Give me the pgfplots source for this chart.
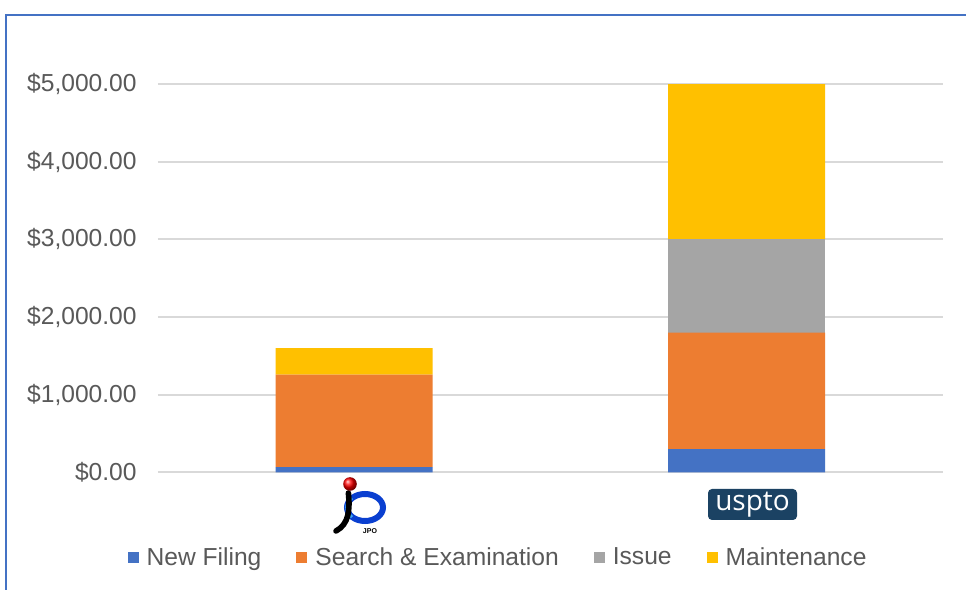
\documentclass[border=0pt]{standalone}
\usepackage{pgfplots}
\pgfplotsset{compat=1.18}
\usepackage{fontspec}
\setmainfont{Liberation Sans}
\newfontfamily\logofont{Open Sans}
\definecolor{cBlue}{HTML}{4472C4}
\definecolor{cOrange}{HTML}{ED7D31}
\definecolor{cGray}{HTML}{A5A5A5}
\definecolor{cYellow}{HTML}{FFC000}
\definecolor{txt}{HTML}{595959}
\definecolor{grid}{HTML}{D9D9D9}
\definecolor{frame}{HTML}{4472C4}
\definecolor{uspto}{HTML}{1B4263}
\definecolor{jpoblue}{HTML}{0A3FD0}
\definecolor{jpolight}{HTML}{3FA9F5}
\begin{document}
\begin{tikzpicture}
\path[use as bounding box] (0,0) rectangle (483pt,295pt);
\fill[white] (0,0) rectangle (483pt,295pt);
\begin{axis}[
  at={(79pt,58.75pt)}, anchor=south west,
  width=392.5pt, height=194.25pt, scale only axis,
  xmin=-0.5, xmax=1.5, ymin=0, ymax=5000,
  ybar stacked, bar width=78.5pt,
  axis line style={draw=none},
  tick style={draw=none},
  ymajorgrids, major grid style={color=grid, line width=1pt},
  xtick={0,1}, xticklabels={{},{}},
  ytick={0,1000,2000,3000,4000,5000},
  yticklabels={{\$0.00},{\$1,000.00},{\$2,000.00},{\$3,000.00},{\$4,000.00},{\$5,000.00}},
  yticklabel style={font=\fontsize{12.3}{14}\selectfont, text=txt, inner sep=0pt, xshift=-10.5pt},
  clip=false,
  legend columns=4,
  legend style={draw=none, fill=none, at={(0.437,-0.22)}, anchor=center,
    font=\fontsize{12.3}{14}\selectfont, text=txt,
    nodes={inner xsep=4pt, inner ysep=0pt},
    /tikz/every even column/.append style={column sep=13.5pt}},
  legend image code/.code={\fill[#1] (0pt,-2.75pt) rectangle (5.5pt,2.75pt);},
]
\addplot[fill=cBlue, draw=none] coordinates {(0,70) (1,300)};
\addplot[fill=cOrange, draw=none] coordinates {(0,1190) (1,1500)};
\addplot[fill=cGray, draw=none] coordinates {(0,0) (1,1200)};
\addplot[fill=cYellow, draw=none] coordinates {(0,340) (1,2000)};
\legend{New Filing, Search \& Examination, Issue, Maintenance}
\end{axis}
% frame
\draw[frame, line width=1.4pt] (3pt,0) -- (3pt,287.5pt) -- (483pt,287.5pt);
% JPO logo
\draw[jpoblue, line width=3pt] (182.5pt,41.25pt) ellipse [x radius=9pt, y radius=6.75pt];
\draw[jpolight, line width=1.5pt] (176pt,46pt) arc[start angle=135, end angle=225, x radius=9pt, y radius=6.75pt];
\draw[black, line width=2.8pt, line cap=round] (174.2pt,48.5pt) .. controls (175pt,40pt) and (174.5pt,33pt) .. (168pt,29.5pt);
\shade[ball color=red] (175pt,53pt) circle (3.4pt);
\node[font=\fontsize{3.5}{4}\selectfont\bfseries, inner sep=0pt] at (185pt,29.6pt) {JPO};
% USPTO logo
\node[fill=uspto, rounded corners=2pt, minimum width=44.5pt, minimum height=15.5pt, inner sep=0pt,
      text=white, font=\logofont\fontsize{14}{16}\selectfont] at (376.25pt,42.75pt) {\raisebox{0.5pt}{uspto}};
\end{tikzpicture}
\end{document}
